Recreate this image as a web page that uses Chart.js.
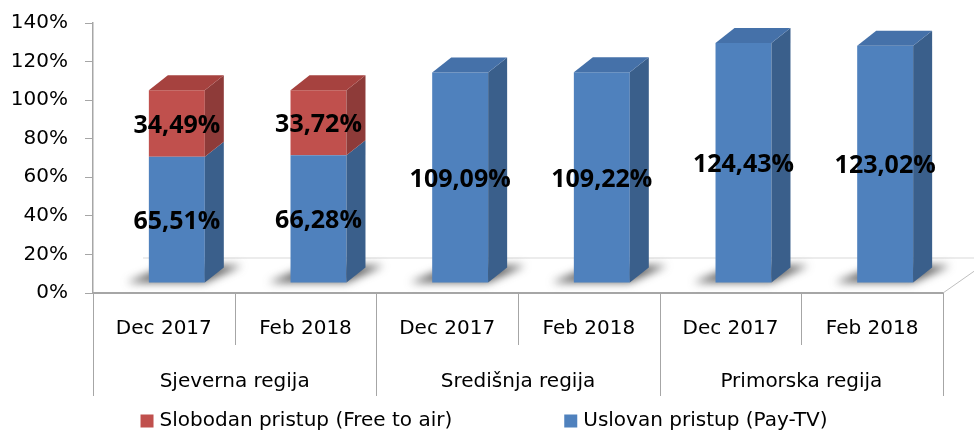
<!DOCTYPE html>
<html>
<head>
<meta charset="utf-8">
<script src="https://cdn.jsdelivr.net/npm/chart.js@4.4.1/dist/chart.umd.min.js"></script>
<style>
  html, body { margin: 0; padding: 0; background: #fff; }
  #wrap { width: 974px; height: 432px; }
</style>
</head>
<body>
<div id="wrap"><canvas id="tvChart"></canvas></div>
<script>
// data
const dates = ['Dec 2017', 'Feb 2018', 'Dec 2017', 'Feb 2018', 'Dec 2017', 'Feb 2018'];
const regions = ['Sjeverna regija', 'Središnja regija', 'Primorska regija'];
const payTv = [65.51, 66.28, 109.09, 109.22, 124.43, 123.02];
const freeToAir = [34.49, 33.72, null, null, null, null];
const yTicks = [0, 20, 40, 60, 80, 100, 120, 140];

const BLUE = { front: '#4f81bd', side: '#3a5f8b', top: '#4571a9' };
const RED = { front: '#c0504d', side: '#8e3b39', top: '#a6423f' };
const DX = 19, DY = 15;          // depth of the 3d bars
const SHIFT_X = 13, SHIFT_Y = -10;
const FONT = 'DejaVu Sans';

Chart.defaults.font.family = FONT;
Chart.defaults.color = '#000';

const fmt = v => v.toFixed(2).replace('.', ',') + '%';

// fake 3d look: floor, shadows, side/top faces and value labels
const bars3d = {
    id: 'bars3d',
    beforeDatasetsDraw(chart) {
        const { ctx, chartArea: a } = chart;
        ctx.save();
        ctx.lineWidth = 1;
        ctx.strokeStyle = '#d9d9d9';
        ctx.beginPath();
        ctx.moveTo(a.left + 50, a.bottom - 35);
        ctx.lineTo(a.right + 50, a.bottom - 35);
        ctx.stroke();
        ctx.strokeStyle = '#bfbfbf';
        ctx.beginPath();
        ctx.moveTo(a.right, a.bottom);
        ctx.lineTo(a.right + 50, a.bottom - 35);
        ctx.stroke();
        ctx.restore();

        ctx.save();
        ctx.translate(SHIFT_X, SHIFT_Y);
        ctx.filter = 'blur(4px)';
        ctx.fillStyle = 'rgba(60,60,60,0.8)';
        chart.getDatasetMeta(0).data.forEach(bar => {
            const l = bar.x - bar.width / 2, r = bar.x + bar.width / 2, b = bar.base;
            ctx.beginPath();
            ctx.moveTo(l - 22, b);
            ctx.lineTo(r, b);
            ctx.lineTo(r + DX + 18, b - DY - 2);
            ctx.lineTo(l + DX, b - DY - 2);
            ctx.closePath();
            ctx.fill();
        });
        ctx.restore();

        ctx.save();
        ctx.translate(SHIFT_X, SHIFT_Y);
    },
    afterDatasetsDraw(chart) {
        const { ctx } = chart;
        const faces = [BLUE, RED];
        dates.forEach((d, i) => {
            let topBar = null, topFace = null;
            chart.data.datasets.forEach((ds, k) => {
                if (ds.data[i] == null) return;
                const bar = chart.getDatasetMeta(k).data[i];
                const r = bar.x + bar.width / 2;
                ctx.fillStyle = faces[k].side;
                ctx.beginPath();
                ctx.moveTo(r, bar.base);
                ctx.lineTo(r, bar.y);
                ctx.lineTo(r + DX, bar.y - DY);
                ctx.lineTo(r + DX, bar.base - DY);
                ctx.closePath();
                ctx.fill();
                topBar = bar;
                topFace = faces[k];
            });
            if (topBar) {
                const l = topBar.x - topBar.width / 2, r = topBar.x + topBar.width / 2;
                ctx.fillStyle = topFace.top;
                ctx.beginPath();
                ctx.moveTo(l, topBar.y);
                ctx.lineTo(l + DX, topBar.y - DY);
                ctx.lineTo(r + DX, topBar.y - DY);
                ctx.lineTo(r, topBar.y);
                ctx.closePath();
                ctx.fill();
            }
        });

        ctx.font = 'bold 25px "Open Sans"';
        ctx.fillStyle = '#000';
        ctx.textAlign = 'center';
        ctx.textBaseline = 'middle';
        chart.data.datasets.forEach((ds, k) => {
            chart.getDatasetMeta(k).data.forEach((bar, i) => {
                if (ds.data[i] == null) return;
                ctx.fillText(fmt(ds.data[i]), bar.x, (bar.y + bar.base) / 2 + 2);
            });
        });
        ctx.restore();
    }
};

// category dividers below the floor
const dividers = {
    id: 'dividers',
    afterDraw(chart) {
        const { ctx } = chart;
        const x = chart.scales.x;
        const catW = x.getPixelForValue(1) - x.getPixelForValue(0);
        const y0 = chart.chartArea.bottom;
        ctx.save();
        ctx.strokeStyle = '#a6a6a6';
        ctx.lineWidth = 1;
        for (let i = 0; i <= dates.length; i++) {
            const px = Math.round(x.getPixelForValue(0) - catW / 2 + i * catW) + 0.5;
            ctx.beginPath();
            ctx.moveTo(px, y0);
            ctx.lineTo(px, i % 2 === 0 ? y0 + 103 : y0 + 52);
            ctx.stroke();
        }
        ctx.restore();
    }
};

// legend, red item first
const legendRow = {
    id: 'legendRow',
    afterDraw(chart) {
        const { ctx, width } = chart;
        const items = [chart.data.datasets[1], chart.data.datasets[0]];
        const box = 13, gap = 6, spacing = 112, y = 421;
        ctx.save();
        ctx.font = '20px "' + FONT + '"';
        const widths = items.map(it => box + gap + ctx.measureText(it.label).width);
        let x = (width - (widths[0] + widths[1] + spacing)) / 2 - 3;
        ctx.textBaseline = 'middle';
        items.forEach((it, i) => {
            ctx.fillStyle = it.backgroundColor;
            ctx.fillRect(x, y - box / 2, box, box);
            ctx.fillStyle = '#000';
            ctx.fillText(it.label, x + box + gap, y);
            x += widths[i] + spacing;
        });
        ctx.restore();
    }
};

const ctx1 = document.getElementById('tvChart').getContext('2d');
const tvChart = new Chart(ctx1, {
    type: 'bar',
    data: {
        labels: dates,
        datasets: [{
            label: 'Uslovan pristup (Pay-TV)',
            data: payTv,
            backgroundColor: BLUE.front,
            borderWidth: 0
        }, {
            label: 'Slobodan pristup (Free to air)',
            data: freeToAir,
            backgroundColor: RED.front,
            borderWidth: 0
        }]
    },
    options: {
        responsive: true,
        maintainAspectRatio: false,
        animation: false,
        barPercentage: 0.395,
        categoryPercentage: 1,
        layout: {
            padding: { left: 10, right: 31, top: 23, bottom: 35 }
        },
        plugins: {
            legend: { display: false },
            tooltip: { enabled: false }
        },
        scales: {
            y: {
                stacked: true,
                min: 0,
                max: 140,
                afterBuildTicks: scale => {
                    scale.ticks = yTicks.map(v => ({ value: v }));
                },
                afterFit: scale => {
                    scale.width = 83;
                    scale.paddingTop = 0;
                    scale.paddingBottom = 0;
                },
                ticks: {
                    callback: v => v + '%',
                    font: { size: 20 },
                    padding: 17
                },
                grid: {
                    drawOnChartArea: false,
                    tickLength: 8,
                    color: '#a6a6a6'
                },
                border: { color: '#a6a6a6', width: 1.5 }
            },
            x: {
                stacked: true,
                weight: 0,
                afterFit: scale => { scale.height = 52; },
                ticks: {
                    font: { size: 20 },
                    padding: 24,
                    autoSkip: false,
                    maxRotation: 0
                },
                grid: { display: false, drawTicks: false },
                border: { color: '#a6a6a6', width: 2 }
            },
            x2: {
                type: 'category',
                position: 'bottom',
                labels: regions,
                offset: true,
                weight: 1,
                afterFit: scale => { scale.height = 52; },
                ticks: {
                    font: { size: 20 },
                    padding: 25,
                    autoSkip: false,
                    maxRotation: 0
                },
                grid: { display: false, drawTicks: false },
                border: { display: false }
            }
        }
    },
    plugins: [bars3d, dividers, legendRow]
});
</script>
</body>
</html>
